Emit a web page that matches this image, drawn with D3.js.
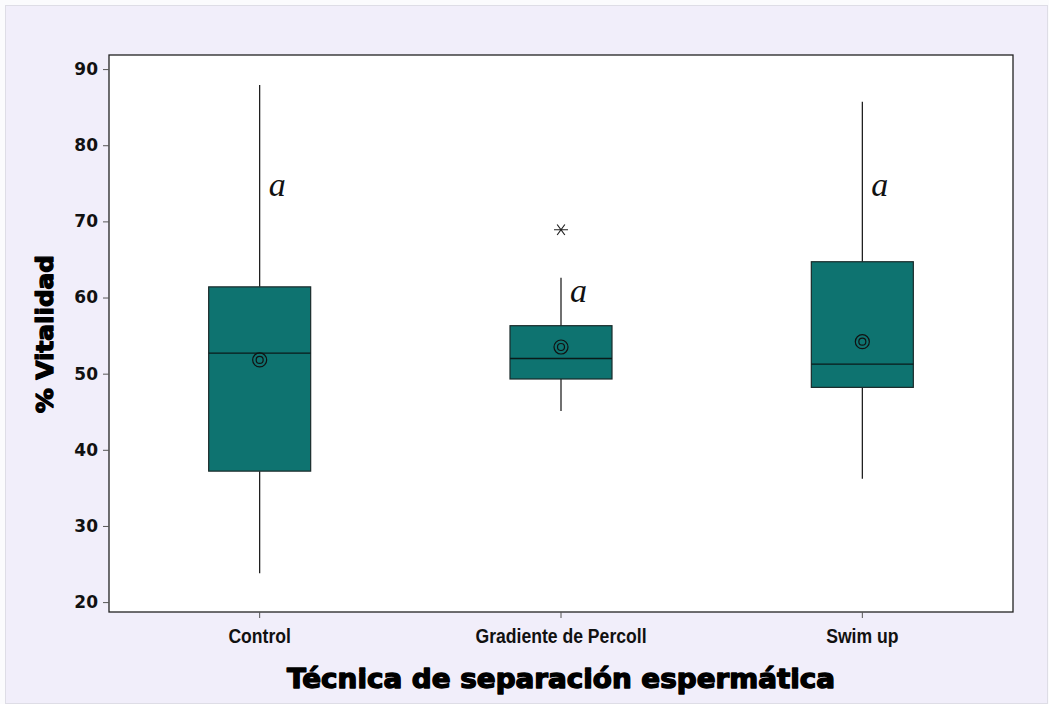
<!DOCTYPE html>
<html>
<head>
<meta charset="utf-8">
<script src="https://cdn.jsdelivr.net/npm/d3@7"></script>
<style>
  html, body { margin: 0; padding: 0; background: #ffffff; }
  svg { display: block; }
</style>
</head>
<body>
<script>
// Vitality (%) by sperm separation technique
const categories = ["Control", "Gradiente de Percoll", "Swim up"];
const whiskerLow = [23.8, 45.1, 36.2];
const q1 = [37.2, 49.3, 48.2];
const median = [52.7, 52.0, 51.25];
const q3 = [61.4, 56.3, 64.7];
const whiskerHigh = [87.9, 62.6, 85.7];
const means = [51.8, 53.5, 54.2];
const outliers = [[], [68.9], []];
const groupLetters = ["a", "a", "a"];
const letterAt = [73.3, 59.4, 73.3];
const yTicks = [20, 30, 40, 50, 60, 70, 80, 90];

const W = 1049, H = 704;
const plot = { left: 109, top: 55, right: 1013, bottom: 612 };

const svg = d3.select("body").append("svg").attr("width", W).attr("height", H);

// outer frame
svg.append("rect").attr("x", 0).attr("y", 0).attr("width", W).attr("height", H).attr("fill", "#fbfbfd");
svg.append("rect").attr("x", 5.5).attr("y", 5.5).attr("width", W - 7).attr("height", H - 6)
  .attr("fill", "#f1eefa").attr("stroke", "#dedde6").attr("stroke-width", 1);

const x = d3.scaleBand().domain(categories).range([plot.left, plot.right]).paddingInner(0).paddingOuter(0);
const y = d3.scaleLinear().domain([18.7, 91.85]).range([plot.bottom, plot.top]);

// plot area
svg.append("rect").attr("x", plot.left).attr("y", plot.top)
  .attr("width", plot.right - plot.left).attr("height", plot.bottom - plot.top)
  .attr("fill", "#ffffff").attr("stroke", "#222").attr("stroke-width", 1.3);

// axes
const yAxis = svg.append("g").attr("transform", `translate(${plot.left},0)`)
  .call(d3.axisLeft(y).tickValues(yTicks).tickSize(6).tickPadding(4).tickFormat(d3.format("d")));
yAxis.select(".domain").remove();
yAxis.selectAll("line").attr("stroke", "#555");
yAxis.selectAll("text").attr("font-family", "DejaVu Sans, sans-serif").attr("font-size", 17)
  .attr("font-weight", "bold").attr("fill", "#111").attr("dx", "-1");

const xAxis = svg.append("g").attr("transform", `translate(0,${plot.bottom})`)
  .call(d3.axisBottom(x).tickSize(6).tickPadding(11));
xAxis.select(".domain").remove();
xAxis.selectAll("line").attr("stroke", "#555");
xAxis.selectAll("text").attr("font-family", "'Liberation Sans', Arial, sans-serif")
  .attr("font-size", 20).attr("font-weight", "bold").attr("fill", "#111")
  .attr("transform", "scale(0.88,1)")
  .attr("x", function () { return 0; });
// keep the condensed labels centred on their ticks
xAxis.selectAll(".tick").each(function () {
  const t = d3.select(this);
  t.select("text").attr("transform", "scale(0.88,1)");
});

// boxplots
const boxW = 102;
const g = svg.append("g");
categories.forEach((c, i) => {
  const cx = x(c) + x.bandwidth() / 2;
  // whiskers
  g.append("line").attr("x1", cx).attr("x2", cx).attr("y1", y(q3[i])).attr("y2", y(whiskerHigh[i]))
    .attr("stroke", "#111").attr("stroke-width", 1.2);
  g.append("line").attr("x1", cx).attr("x2", cx).attr("y1", y(q1[i])).attr("y2", y(whiskerLow[i]))
    .attr("stroke", "#111").attr("stroke-width", 1.2);
  // box
  g.append("rect").attr("x", cx - boxW / 2).attr("y", y(q3[i]))
    .attr("width", boxW).attr("height", y(q1[i]) - y(q3[i]))
    .attr("fill", "#0e7370").attr("stroke", "#1a2a2a").attr("stroke-width", 1.2);
  // median
  g.append("line").attr("x1", cx - boxW / 2).attr("x2", cx + boxW / 2)
    .attr("y1", y(median[i])).attr("y2", y(median[i]))
    .attr("stroke", "#0a1a1a").attr("stroke-width", 1.4);
  // mean symbol
  g.append("circle").attr("cx", cx).attr("cy", y(means[i])).attr("r", 7)
    .attr("fill", "none").attr("stroke", "#111").attr("stroke-width", 1.2);
  g.append("circle").attr("cx", cx).attr("cy", y(means[i])).attr("r", 3.5)
    .attr("fill", "none").attr("stroke", "#111").attr("stroke-width", 1.2);
  // outliers
  outliers[i].forEach(v => {
    const oy = y(v), r = 7;
    const star = d3.path();
    star.moveTo(cx - r, oy); star.lineTo(cx + r, oy);
    star.moveTo(cx - r * 0.55, oy - r * 0.75); star.lineTo(cx + r * 0.55, oy + r * 0.75);
    star.moveTo(cx - r * 0.55, oy + r * 0.75); star.lineTo(cx + r * 0.55, oy - r * 0.75);
    g.append("path").attr("d", star.toString()).attr("stroke", "#222").attr("stroke-width", 1.2).attr("fill", "none");
  });
  // group letters
  g.append("text").attr("x", cx + 9).attr("y", y(letterAt[i]))
    .attr("font-family", "'Liberation Serif', 'Times New Roman', serif").attr("font-style", "italic")
    .attr("font-size", 34).attr("fill", "#111").text(groupLetters[i]);
});

// axis titles (heavy weight emulated with a stroke)
svg.append("text").attr("transform", `translate(53,334) rotate(-90)`)
  .attr("text-anchor", "middle").attr("font-family", "'DejaVu Sans', sans-serif")
  .attr("font-weight", "bold").attr("font-size", 23).attr("fill", "#000")
  .attr("stroke", "#000").attr("stroke-width", 1.3).attr("stroke-linejoin", "round")
  .attr("textLength", 158).attr("lengthAdjust", "spacingAndGlyphs").text("% Vitalidad");
svg.append("text").attr("x", 561).attr("y", 688)
  .attr("text-anchor", "middle").attr("font-family", "'DejaVu Sans', sans-serif")
  .attr("font-weight", "bold").attr("font-size", 27).attr("fill", "#000")
  .attr("stroke", "#000").attr("stroke-width", 1.4).attr("stroke-linejoin", "round")
  .attr("textLength", 548).attr("lengthAdjust", "spacingAndGlyphs").text("Técnica de separación espermática");
</script>
</body>
</html>
